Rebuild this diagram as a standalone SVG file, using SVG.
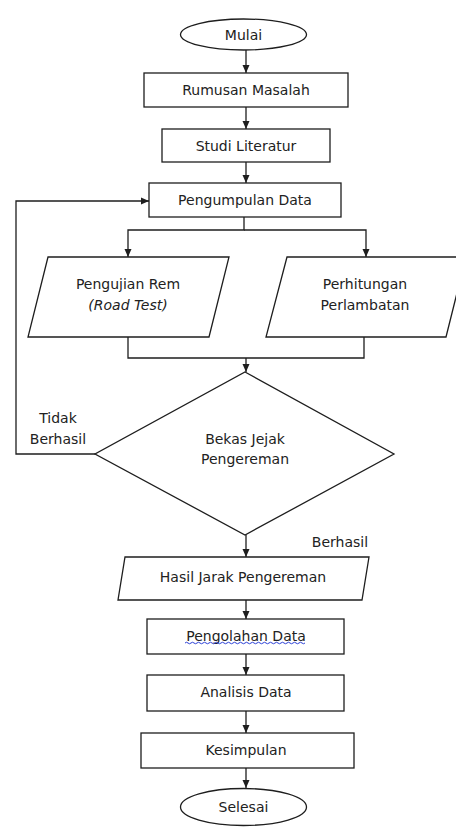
<svg xmlns="http://www.w3.org/2000/svg" width="456" height="827" viewBox="0 0 456 827">
<style>
.s{fill:#fff;stroke:#1e1e1e;stroke-width:1.3}
.t{font-family:"DejaVu Sans",Verdana,sans-serif;font-size:14px;fill:#222;text-anchor:middle}
.c{fill:none;stroke:#1e1e1e;stroke-width:1.3}
</style>
<defs>
<marker id="ah" viewBox="0 0 8 8" refX="8" refY="4" markerWidth="8" markerHeight="8" markerUnits="userSpaceOnUse" orient="auto">
<path d="M0,0.5 L8,4 L0,7.5 Z" fill="#1e1e1e"/>
</marker>
</defs>
<rect width="456" height="827" fill="#fff"/>
<g id="connectors">
<line class="c" x1="246" y1="50" x2="246" y2="73" marker-end="url(#ah)"/>
<line class="c" x1="246" y1="107" x2="246" y2="129" marker-end="url(#ah)"/>
<line class="c" x1="246" y1="162" x2="246" y2="183" marker-end="url(#ah)"/>
<polyline class="c" points="244,217 244,230 128,230 128,257" marker-end="url(#ah)"/>
<polyline class="c" points="244,230 366,230 366,257" marker-end="url(#ah)"/>
<polyline class="c" points="128,337 128,358 364,358 364,337"/>
<line class="c" x1="246" y1="358" x2="246" y2="372" marker-end="url(#ah)"/>
<polyline class="c" points="95,454 16,454 16,201 149,201" marker-end="url(#ah)"/>
<line class="c" x1="246" y1="535" x2="246" y2="557" marker-end="url(#ah)"/>
<line class="c" x1="246" y1="600" x2="246" y2="619" marker-end="url(#ah)"/>
<line class="c" x1="246" y1="654" x2="246" y2="675" marker-end="url(#ah)"/>
<line class="c" x1="246" y1="711" x2="246" y2="733" marker-end="url(#ah)"/>
<line class="c" x1="246" y1="768" x2="246" y2="788" marker-end="url(#ah)"/>
<text class="t" x="58" y="423">Tidak</text>
<text class="t" x="58" y="444">Berhasil</text>
<text class="t" x="340" y="546.5">Berhasil</text>
</g>
<g id="mulai">
<ellipse class="s" cx="243.5" cy="34.5" rx="63" ry="15.5"/>
<text class="t" x="243.5" y="39.5">Mulai</text>
</g>
<g id="rumusan">
<rect class="s" x="144" y="73" width="204" height="34"/>
<text class="t" x="246" y="95">Rumusan Masalah</text>
</g>
<g id="studi">
<rect class="s" x="162" y="129" width="168" height="33"/>
<text class="t" x="246" y="150.5">Studi Literatur</text>
</g>
<g id="pengumpulan">
<rect class="s" x="149" y="183" width="192" height="34"/>
<text class="t" x="245" y="205">Pengumpulan Data</text>
</g>
<g id="pengujian">
<polygon class="s" points="48,257 229,257 209,337 28,337"/>
<text class="t" x="128" y="288.5">Pengujian Rem</text>
<text class="t" x="128" y="310" font-style="italic">(Road Test)</text>
</g>
<g id="perhitungan">
<polygon class="s" points="287,257 466,257 446,337 266,337"/>
<text class="t" x="365" y="288.5">Perhitungan</text>
<text class="t" x="365" y="310">Perlambatan</text>
</g>
<g id="bekas">
<polygon class="s" points="245,372 394,454 245,535 95,454"/>
<text class="t" x="245" y="444">Bekas Jejak</text>
<text class="t" x="245" y="464">Pengereman</text>
</g>
<g id="hasil">
<polygon class="s" points="125,557 369,557 362,600 118,600"/>
<text class="t" x="243" y="581.5">Hasil Jarak Pengereman</text>
</g>
<g id="pengolahan">
<rect class="s" x="147" y="619" width="197" height="35"/>
<text class="t" x="246" y="641">Pengolahan Data</text>
<path d="M185,643 q1.5,-1.5 3,0 t3,0 t3,0 t3,0 t3,0 t3,0 t3,0 t3,0 t3,0 t3,0 t3,0 t3,0 t3,0 t3,0 t3,0 t3,0 t3,0 t3,0 t3,0 t3,0 t3,0 t3,0 t3,0 t3,0 t3,0 t3,0 t3,0 t3,0 t3,0 t3,0 t3,0 t3,0 t3,0 t3,0 t3,0 t3,0 t3,0 t3,0 t3,0 t3,0" fill="none" stroke="#2b3fd6" stroke-width="1"/>
</g>
<g id="analisis">
<rect class="s" x="147" y="675" width="197" height="36"/>
<text class="t" x="246" y="696.5">Analisis Data</text>
</g>
<g id="kesimpulan">
<rect class="s" x="141" y="733" width="213" height="35"/>
<text class="t" x="246" y="754.5">Kesimpulan</text>
</g>
<g id="selesai">
<ellipse class="s" cx="243.5" cy="807" rx="63" ry="18.5"/>
<text class="t" x="243.5" y="812">Selesai</text>
</g>
</svg>
